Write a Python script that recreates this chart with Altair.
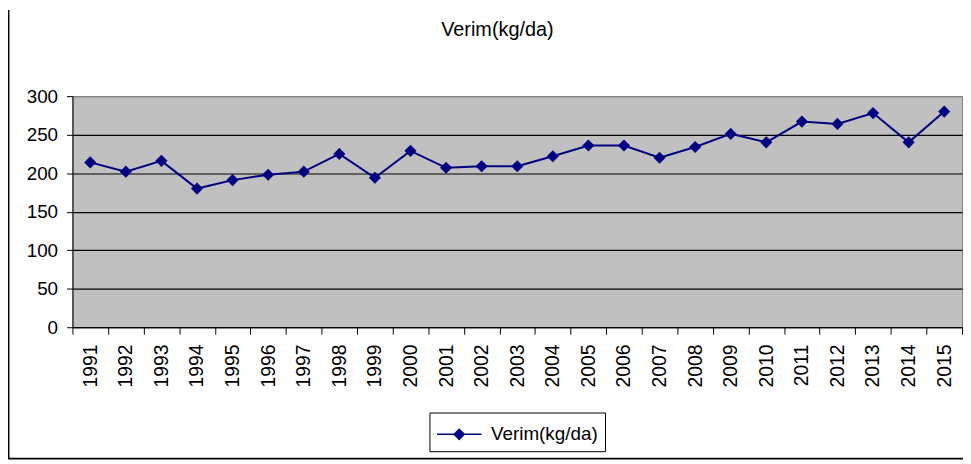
import altair as alt
import pandas as pd

years = ["1991", "1992", "1993", "1994", "1995", "1996", "1997", "1998", "1999",
         "2000", "2001", "2002", "2003", "2004", "2005", "2006", "2007", "2008",
         "2009", "2010", "2011", "2012", "2013", "2014", "2015"]
verim = [214, 202, 216, 180, 191, 198, 202, 225, 194, 229, 207, 209, 209,
         222, 236, 236, 220, 234, 251, 240, 267, 264, 278, 240, 280]
series_name = "Verim(kg/da)"
y_ticks = [0, 50, 100, 150, 200, 250, 300]

df = pd.DataFrame({"year": years, "value": verim, "series": [series_name] * len(years)})

FONT = "Liberation Sans"
NAVY = "#000080"

x_enc = alt.X("year:O", sort=years,
              scale=alt.Scale(type="band", paddingInner=0, paddingOuter=0),
              axis=alt.Axis(title=None, labelAngle=270, labelAlign="right",
                            labelBaseline="middle", labelFontSize=19.5, labelFont=FONT,
                            labelColor="black", labelPadding=10, tickBand="extent",
                            tickSize=7, tickColor="black", domainColor="black",
                            grid=False))
y_enc = alt.Y("value:Q", scale=alt.Scale(domain=[0, 300], nice=False, zero=True),
              axis=alt.Axis(title=None, values=y_ticks, labelFontSize=19, labelFont=FONT,
                            labelColor="black", labelPadding=9, tickSize=6,
                            tickColor="black", domainColor="black", grid=True,
                            gridColor=alt.ExprRef(expr="datum.value == 300 ? '#808080' : 'black'"),
                            gridWidth=1.2, gridOpacity=1))

base = alt.Chart(df)

line = base.mark_line(strokeWidth=2).encode(
    x=x_enc, y=y_enc,
    color=alt.Color("series:N",
                    scale=alt.Scale(domain=[series_name], range=[NAVY]),
                    legend=alt.Legend(
                        title=None, orient="none", legendX=360, legendY=319,
                        symbolType="M-1.6,0H1.6M0,-0.36L0.36,0L0,0.36L-0.36,0Z",
                        symbolSize=784, symbolStrokeWidth=1.5, symbolOffset=8,
                        symbolFillColor=NAVY, symbolStrokeColor=NAVY,
                        symbolOpacity=1,
                        labelOffset=17, labelFont=FONT, labelFontSize=19,
                        labelColor="black", padding=7, strokeColor="black",
                        fillColor="white"))
)

points = base.mark_point(shape="diamond", filled=True, size=150, color=NAVY,
                         opacity=1).encode(x=x_enc, y=y_enc)

frame_df = pd.DataFrame({"a": [0]})
left_frame = alt.Chart(frame_df).mark_rule(color="black", strokeWidth=2).encode(
    x=alt.value(-64.5), y=alt.value(-87), y2=alt.value(366))
bottom_frame = alt.Chart(frame_df).mark_rule(color="black", strokeWidth=2).encode(
    x=alt.value(-65), x2=alt.value(898), y=alt.value(365.5))

chart = alt.layer(line, points, left_frame, bottom_frame).properties(
    width=897, height=233,
    background="white",
    title=alt.Title(series_name, font=FONT, fontSize=20, fontWeight="normal",
                    color="black", offset=-31, dx=-20, anchor="middle",
                    frame="group"),
    autosize=alt.AutoSizeParams(type="none"),
    padding={"left": 65, "top": 87, "right": 1, "bottom": 133},
).configure_view(fill="#C0C0C0", stroke="#808080", strokeWidth=1)

chart.save("out.html", embed_options={"renderer": "svg", "actions": False})
